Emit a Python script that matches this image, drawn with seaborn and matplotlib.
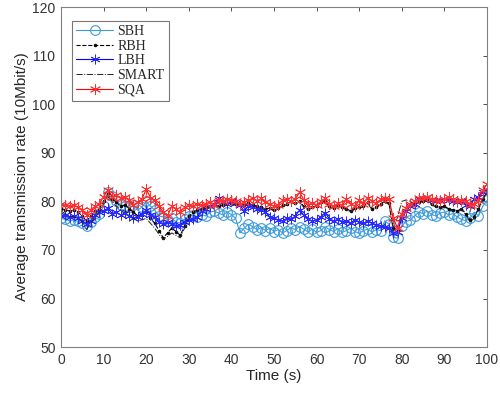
import numpy as np
import pandas as pd
import seaborn as sns
import matplotlib.pyplot as plt

# tempo (s) e valori stimati dal grafico
time_s = np.arange(0, 101)

sbh = [76.5, 76.3, 76.0, 76.2, 75.9, 75.6, 75.0, 75.8, 76.8, 77.5, 79.0,
       82.0, 81.2, 80.0, 79.3, 79.0, 78.8, 79.2, 78.2, 78.8, 80.0,
       79.0, 78.2, 77.0, 76.8, 76.2, 76.5, 75.8, 75.5, 76.3, 77.0,
       77.2, 76.8, 77.3, 77.0, 77.8, 78.0, 77.6, 77.2, 77.8, 77.3,
       76.5, 73.5, 74.5, 75.3, 74.8, 74.2, 74.6, 74.0, 74.5, 73.8,
       74.2, 73.5, 74.0, 74.6, 74.2, 74.8, 74.3, 73.7, 74.3, 73.6,
       74.0, 74.8, 74.2, 73.8, 74.4, 73.6, 74.0, 74.5, 73.8, 73.4,
       74.0, 74.3, 73.7, 74.2, 74.0, 76.0, 75.3, 72.6, 72.4, 75.0,
       75.8, 76.2, 77.0, 77.8, 77.5, 78.0, 77.3, 77.0, 77.6, 77.8,
       77.2, 77.5, 76.8, 76.3, 76.0, 76.5, 77.8, 77.0, 79.0, 80.2]

rbh = [78.5, 78.3, 78.0, 78.2, 77.8, 77.0, 76.0, 77.0, 78.0, 78.5, 80.0,
       81.5, 80.5, 79.8, 79.0, 79.3, 78.5, 77.8, 77.0, 77.3, 77.8,
       76.5, 75.5, 74.0, 72.5, 73.5, 74.5, 73.8, 73.0, 75.0, 77.0,
       77.8, 78.3, 78.5, 78.8, 79.0, 79.2, 79.0, 79.3, 79.5, 79.6,
       79.4, 79.5, 79.2, 79.6, 79.3, 79.0, 78.8, 78.5, 78.6, 78.3,
       78.6, 79.2, 79.5, 80.0, 79.6, 80.0, 79.0, 78.5, 78.8, 79.0,
       79.8, 80.0, 79.0, 78.6, 79.2, 78.8, 78.5, 78.0, 78.6, 78.8,
       79.0, 79.8, 78.5, 78.8, 79.5, 80.0, 79.6, 74.5, 74.2, 77.5,
       78.5, 79.0, 79.3, 79.8, 80.0, 80.2, 79.5, 79.0, 78.8, 79.0,
       78.5, 78.2, 78.0, 78.5, 77.5, 76.2, 76.8, 78.5, 80.5, 82.0]

lbh = [77.0, 77.2, 76.8, 77.0, 76.5, 76.0, 75.3, 76.0, 77.2, 77.8, 78.0,
       78.6, 77.5, 77.8, 77.2, 77.6, 77.0, 76.5, 76.8, 77.5, 78.2,
       77.3, 76.8, 75.8, 75.3, 75.8, 75.4, 75.0, 75.2, 75.8, 76.2,
       76.4, 76.8, 78.0, 78.5, 79.0, 79.5, 80.6, 79.8, 79.5, 80.0,
       79.6, 79.2, 78.0, 79.0, 78.8, 78.5, 78.2, 77.8, 76.8, 76.5,
       76.2, 76.0, 76.5, 76.3, 77.0, 78.2, 77.2, 76.3, 76.0, 76.2,
       76.8, 77.7, 76.4, 76.0, 76.3, 75.8, 76.0, 75.6, 76.2, 75.8,
       75.5, 76.0, 75.5, 75.2, 75.0, 74.8, 74.6, 73.5, 73.8, 76.5,
       78.0, 79.0, 79.5, 80.5, 80.8, 81.0, 80.3, 80.0, 80.2, 80.5,
       80.2, 80.0, 79.8, 80.0, 79.2, 79.0, 80.5, 81.0, 82.0, 82.3]

smart = [78.0, 77.5, 77.0, 76.8, 76.5, 75.8, 74.2, 75.5, 76.8, 77.8, 79.5,
         81.0, 80.0, 79.0, 78.3, 78.0, 77.5, 76.5, 76.0, 76.2, 76.5,
         75.5, 74.5, 73.2, 72.2, 72.8, 73.5, 73.0, 72.5, 74.5, 76.5,
         77.5, 78.0, 78.3, 78.6, 78.8, 79.0, 78.8, 79.0, 79.3, 79.5,
         79.2, 79.4, 79.0, 79.4, 79.1, 78.8, 78.6, 78.3, 78.5, 78.0,
         78.4, 79.0, 79.3, 79.8, 79.4, 79.8, 78.8, 78.3, 78.6, 78.8,
         79.6, 79.8, 78.8, 78.4, 79.0, 78.6, 78.3, 77.8, 78.4, 78.6,
         78.8, 79.6, 78.3, 78.6, 79.3, 79.8, 79.4, 74.0, 76.8, 80.0,
         80.3, 80.0, 79.5, 79.8, 80.0, 80.0, 79.3, 78.8, 78.6, 78.8,
         78.3, 78.0, 77.8, 78.3, 77.3, 75.8, 76.5, 78.3, 80.3, 81.8]

sqa = [79.5, 79.2, 79.0, 79.2, 78.8, 78.3, 77.2, 78.2, 79.0, 79.5, 81.0,
       82.3, 81.0, 81.3, 80.8, 81.0, 80.3, 79.2, 79.8, 80.5, 82.5,
       80.8, 80.2, 79.0, 77.8, 77.0, 79.0, 78.5, 77.8, 78.8, 79.2,
       79.0, 79.5, 79.2, 79.5, 79.8, 79.3, 80.3, 80.0, 80.5, 80.2,
       80.0, 79.5, 79.8, 80.3, 80.6, 80.0, 80.6, 79.8, 79.4, 79.0,
       79.3, 80.2, 80.5, 80.0, 80.5, 81.9, 80.3, 79.3, 79.6, 79.2,
       80.0, 80.6, 79.4, 79.0, 79.6, 79.2, 80.4, 79.5, 79.0, 80.2,
       79.5, 80.8, 80.0, 79.6, 80.4, 80.8, 80.5, 76.5, 74.5, 77.5,
       78.6, 79.5, 80.0, 80.6, 80.8, 81.0, 80.5, 80.2, 80.0, 80.5,
       81.0, 80.5, 80.0, 80.3, 80.0, 79.2, 79.5, 80.3, 82.3, 83.5]

series_names = ['SBH', 'RBH', 'LBH', 'SMART', 'SQA']
series_values = [sbh, rbh, lbh, smart, sqa]

# stile di ogni curva (stile MATLAB)
# NB: seaborn mette il bordo dei marker bianco di default -> lo forziamo
styles = {
    'SBH':   dict(color='#3d9bd8', linestyle='-', marker='o', markersize=7,
                  markerfacecolor='none', markeredgecolor='#3d9bd8',
                  linewidth=0.8, markeredgewidth=0.8),
    'RBH':   dict(color='black', linestyle='--', marker='.', markersize=4,
                  markeredgecolor='black', linewidth=0.8, markeredgewidth=0.5),
    'LBH':   dict(color='#0000ff', linestyle='-', marker=(6, 2, 0), markersize=7,
                  markeredgecolor='#2a2aff', linewidth=0.8, markeredgewidth=0.6),
    'SMART': dict(color='#222222', linestyle='-.', marker=None, linewidth=0.7),
    'SQA':   dict(color='#ff0000', linestyle='-', marker=(6, 2, 0), markersize=8,
                  markeredgecolor='#ff3030', linewidth=0.8, markeredgewidth=0.6),
}

sns.set_style('white')
plt.rcParams['font.family'] = ['Liberation Sans', 'DejaVu Sans']

fig = plt.figure(figsize=(5.0, 3.94), dpi=100)
ax = fig.add_axes([0.122, 0.119, 0.852, 0.863])

for name, vals in zip(series_names, series_values):
    sns.lineplot(x=time_s, y=vals, ax=ax, label=name, **styles[name])

ax.set_xlim(0, 100)
ax.set_ylim(50, 120)
ax.set_xticks(np.arange(0, 101, 10))
ax.set_yticks(np.arange(50, 121, 10))
ax.tick_params(direction='in', top=True, right=True, length=3, width=0.6,
               labelsize=10, colors='#333333', pad=4)
for sp in ax.spines.values():
    sp.set_color('#808080')
    sp.set_linewidth(0.8)

ax.set_xlabel('Time (s)', fontsize=11, color='#262626', labelpad=2)
ax.set_ylabel('Average transmission rate (10Mbit/s)', fontsize=11,
              color='#262626', labelpad=2)

leg = ax.legend(loc='upper left', bbox_to_anchor=(0.025, 0.96), borderaxespad=0,
                fancybox=False, frameon=True, edgecolor='#555555',
                handlelength=2.7, borderpad=0.3, labelspacing=0.12,
                handletextpad=0.3, prop={'family': 'Liberation Serif', 'size': 10})
leg.get_frame().set_linewidth(0.8)

plt.savefig('out.png', dpi=100)
